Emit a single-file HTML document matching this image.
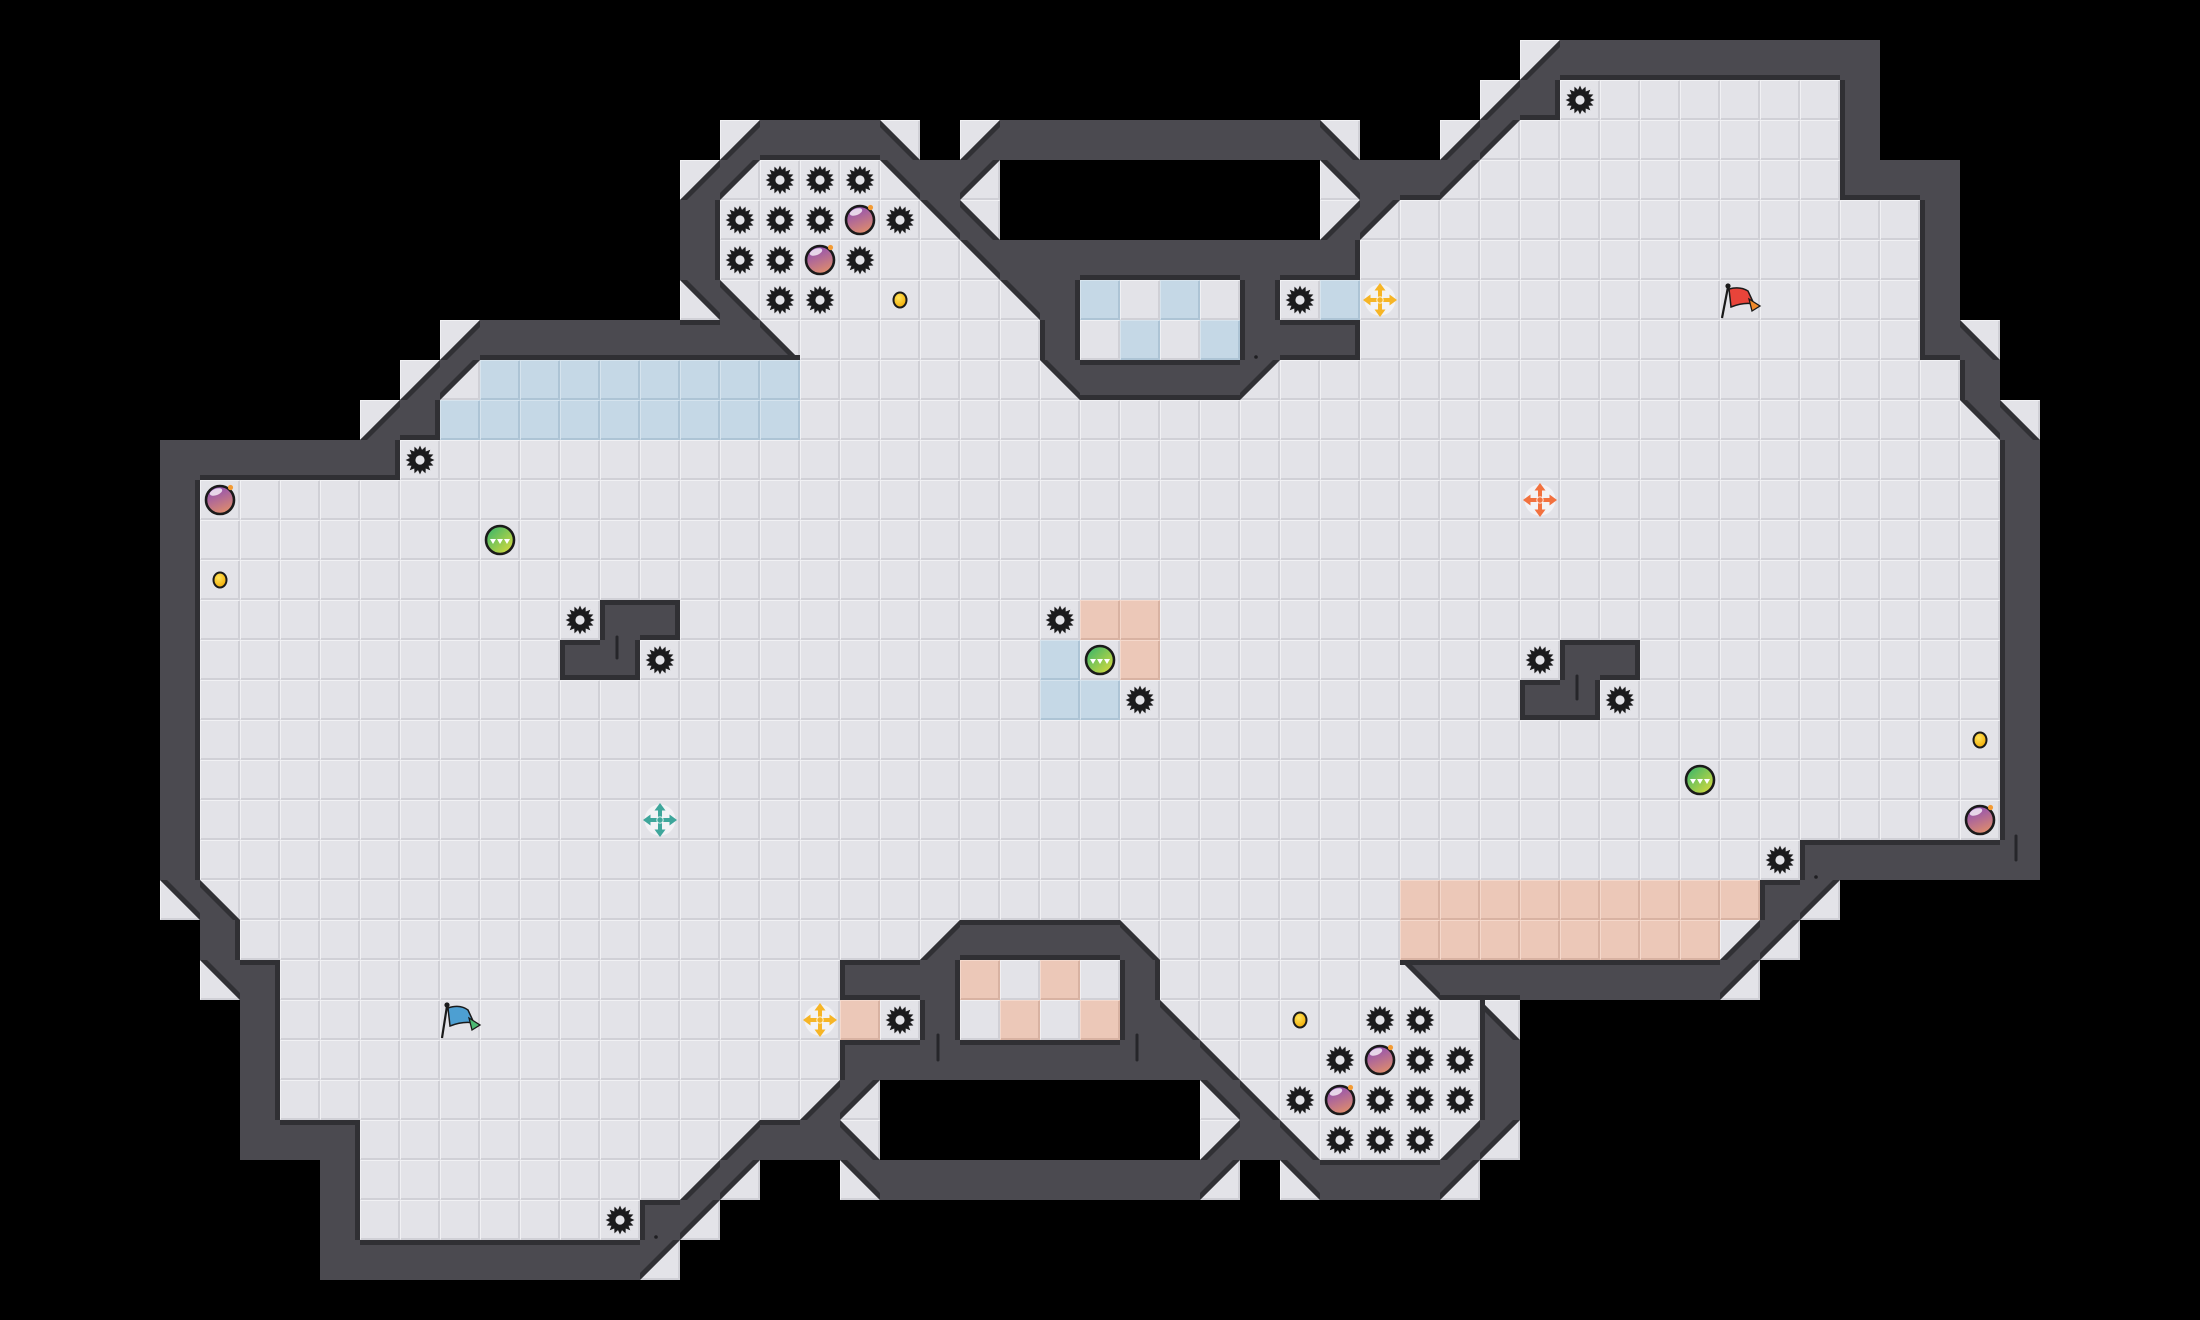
<!DOCTYPE html>
<html><head><meta charset="utf-8"><title>Level map</title>
<style>
html,body{margin:0;padding:0;background:#000;width:2200px;height:1320px;overflow:hidden}
#root,svg{display:block}
</style>
</head><body>
<div id="root"></div>
<script>
(function(){
var S=40,W=5,K=7;
var G=[];for(var r=0;r<33;r++){var row=[];for(var c=0;c<55;c++)row.push(' ');G.push(row);}
function s(r,c,t){for(var i=0;i<t.length;i++)G[r][c+i]=t[i];}
function f(r,a,b,ch){for(var c=a;c<=b;c++)G[r][c]=ch;}
/* ---- tile map ---- */
s(1,38,'4');f(1,39,46,'#');
s(2,37,'4#');f(2,39,45,'.');s(2,46,'#');
s(3,18,'4###3');s(3,24,'4');f(3,25,32,'#');s(3,33,'3');s(3,36,'41');f(3,38,45,'.');s(3,46,'#');
s(4,17,'41...2#1');s(4,33,'2##1');f(4,37,45,'.');s(4,46,'###');
s(5,17,'#.....23');s(5,33,'41');f(5,35,47,'.');s(5,48,'#');
s(6,17,'#......2');f(6,25,33,'#');f(6,34,47,'.');s(6,48,'#');
s(7,17,'23......2#b.b.#.b');f(7,34,47,'.');s(7,48,'#');
s(8,11,'4');f(8,12,18,'#');s(8,19,'3');f(8,20,25,'.');s(8,26,'#.b.b###');f(8,34,47,'.');s(8,48,'#3');
s(9,10,'41');f(9,12,19,'b');f(9,20,25,'.');s(9,26,'2####1');f(9,32,48,'.');s(9,49,'#');
s(10,9,'4#');f(10,11,19,'b');f(10,20,48,'.');s(10,49,'23');
f(11,4,9,'#');f(11,10,49,'.');s(11,50,'#');
for(var rr=12;rr<=20;rr++){s(rr,4,'#');f(rr,5,49,'.');s(rr,50,'#');}
s(15,15,'##');s(15,27,'oo');
s(16,14,'##');s(16,26,'b');s(16,28,'o');s(16,39,'##');
s(17,26,'bb');s(17,38,'##');
s(21,4,'#');f(21,5,44,'.');f(21,45,50,'#');
s(22,4,'23');f(22,6,34,'.');f(22,35,43,'o');s(22,44,'#1');
s(23,5,'#');f(23,6,22,'.');s(23,23,'4####3');f(23,29,34,'.');f(23,35,42,'o');s(23,43,'41');
s(24,5,'2#');f(24,7,20,'.');s(24,21,'###o.o.#');f(24,29,34,'.');s(24,35,'2');f(24,36,42,'#');s(24,43,'1');
s(25,6,'#');f(25,7,20,'.');s(25,21,'o.#.o.o#3');f(25,30,36,'.');s(25,37,'3');
s(26,6,'#');f(26,7,20,'.');f(26,21,29,'#');s(26,30,'3');f(26,31,36,'.');s(26,37,'#');
s(27,6,'#');f(27,7,19,'.');s(27,20,'41');s(27,30,'23');f(27,32,36,'.');s(27,37,'#');
f(28,6,8,'#');f(28,9,17,'.');s(28,18,'4##3');s(28,30,'4#3');f(28,33,35,'.');s(28,36,'41');
s(29,8,'#');f(29,9,16,'.');s(29,17,'41');s(29,21,'2');f(29,22,29,'#');s(29,30,'1');s(29,32,'2###1');
s(30,8,'#');f(30,9,15,'.');s(30,16,'#1');
f(31,8,15,'#');s(31,16,'1');

var WALL='#4b4a50',EDGE='#303034';
var FL={'.':['#e3e3e8','#f1f1f4','#d0d0d6'],'b':['#c5d8e6','#d6e4ee','#adc4d5'],'o':['#ecc8b8','#f5d9cc','#d8b2a2']};
function tile(x,y,t){var c=FL[t];
 return '<rect x="'+x+'" y="'+y+'" width="40" height="40" fill="'+c[0]+'"/>'+
 '<path d="M'+(x+0.5)+' '+(y+39)+'V'+(y+0.5)+'H'+(x+39)+'" stroke="'+c[1]+'" stroke-width="1" fill="none"/>'+
 '<path d="M'+(x+1)+' '+(y+39)+'H'+(x+39)+'V'+(y+1)+'" stroke="'+c[2]+'" stroke-width="2" fill="none"/>';}
function poly(p,col){var a=[];for(var i=0;i<p.length;i++)a.push(p[i][0]+','+p[i][1]);return '<polygon points="'+a.join(' ')+'" fill="'+col+'"/>';}
function rect(x,y,w,h,col){return '<rect x="'+x+'" y="'+y+'" width="'+w+'" height="'+h+'" fill="'+col+'"/>';}
function ed(t,side){
 if(t==='#')return 1;
 if(t==='.'||t==='b'||t==='o')return 0;
 if(t==='1')return (side===0||side===3)?1:0;
 if(t==='2')return (side===0||side===1)?1:0;
 if(t==='3')return (side===2||side===3)?1:0;
 if(t==='4')return (side===2||side===1)?1:0;
 return -1;}
var h='',e='';
for(var r=0;r<33;r++)for(var c=0;c<55;c++){
 var t=G[r][c],x=c*S,y=r*S;
 if(t===' ')continue;
 if(t==='#'){h+=rect(x,y,S,S,WALL);continue;}
 if(FL[t]){h+=tile(x,y,t);continue;}
 h+=tile(x,y,'.');
 if(t==='1'){h+=poly([[x,y],[x+S,y],[x,y+S]],WALL);e+=poly([[x+S,y],[x,y+S],[x,y+S-K],[x+S-K,y]],EDGE);}
 if(t==='2'){h+=poly([[x,y],[x+S,y],[x+S,y+S]],WALL);e+=poly([[x,y],[x+S,y+S],[x+S,y+S-K],[x+K,y]],EDGE);}
 if(t==='3'){h+=poly([[x,y],[x,y+S],[x+S,y+S]],WALL);e+=poly([[x,y],[x+S,y+S],[x+S-K,y+S],[x,y+K]],EDGE);}
 if(t==='4'){h+=poly([[x+S,y],[x+S,y+S],[x,y+S]],WALL);e+=poly([[x+S,y],[x,y+S],[x+K,y+S],[x+S,y+K]],EDGE);}
}
for(var r=0;r<33;r++)for(var c=0;c<55;c++){
 var t=G[r][c],x=c*S,y=r*S,a,b;
 if(c<54){a=ed(t,1);b=ed(G[r][c+1],3);
  if(a===1&&b===0)e+=rect(x+S-W,y,W,S,EDGE);else if(a===0&&b===1)e+=rect(x+S,y,W,S,EDGE);}
 if(r<32){a=ed(t,2);b=ed(G[r+1][c],0);
  if(a===1&&b===0)e+=rect(x,y+S-W,S,W,EDGE);else if(a===0&&b===1)e+=rect(x,y+S,S,W,EDGE);}
}
/* marks */
var m='';
var ticks=[[617,637,658],[1577,676,699],[2016,836,860],[938,1035,1060],[1137,1035,1060]];
for(var i=0;i<ticks.length;i++)m+='<line x1="'+ticks[i][0]+'" y1="'+ticks[i][1]+'" x2="'+ticks[i][0]+'" y2="'+ticks[i][2]+'" stroke="#26262a" stroke-width="3" stroke-linecap="round"/>';
var dots=[[1256,357],[1816,877],[656,1237]];
for(var i=0;i<dots.length;i++)m+='<circle cx="'+dots[i][0]+'" cy="'+dots[i][1]+'" r="1.8" fill="#1f1f22"/>';
/* objects */
var o='';
var sp='';for(var i=0;i<32;i++){var an=i*Math.PI/16;var rad=(i%2)?10.3:14.5;sp+=(i?'L':'M')+(rad*Math.cos(an)).toFixed(2)+' '+(rad*Math.sin(an)).toFixed(2);}sp+='Z';
function cx(c){return c*S+20;}
var saws=[[39,2],[19,4],[20,4],[21,4],[18,5],[19,5],[20,5],[22,5],[18,6],[19,6],[21,6],[19,7],[20,7],[32,7],[10,11],[14,15],[16,16],[26,15],[28,17],[38,16],[40,17],[44,21],[22,25],[34,25],[35,25],[33,26],[35,26],[36,26],[32,27],[34,27],[35,27],[36,27],[33,28],[34,28],[35,28],[15,30]];
for(var i=0;i<saws.length;i++){o+='<g transform="translate('+cx(saws[i][0])+','+cx(saws[i][1])+')"><path d="'+sp+'" fill="#1b1b1d"/><circle r="4.6" fill="#e3e3e8"/></g>';}
var bombs=[[21,5],[20,6],[5,12],[49,20],[34,26],[33,27]];
for(var i=0;i<bombs.length;i++){o+='<g transform="translate('+cx(bombs[i][0])+','+cx(bombs[i][1])+')"><circle r="14" fill="url(#gb)" stroke="#1a1a1a" stroke-width="2.6"/><ellipse cx="-4" cy="-8" rx="6.5" ry="3.2" fill="#fff" opacity=".75" transform="rotate(-20 -4 -8)"/><circle cx="10.5" cy="-12.5" r="2.6" fill="#f39b35"/></g>';}
var greens=[[12,13],[27,16],[42,19]];
for(var i=0;i<greens.length;i++){o+='<g transform="translate('+cx(greens[i][0])+','+cx(greens[i][1])+')"><circle r="14" fill="url(#gg)" stroke="#1a1a1a" stroke-width="2.6"/><path d="M-10 -1H-4L-7 4Z M-3 -1H3L0 4Z M4 -1H10L7 4Z" fill="#fff"/></g>';}
var coins=[[22,7],[5,14],[49,18],[32,25]];
for(var i=0;i<coins.length;i++){o+='<g transform="translate('+cx(coins[i][0])+','+cx(coins[i][1])+')"><ellipse rx="6.5" ry="7.5" fill="url(#gc)" stroke="#1a1a1a" stroke-width="2"/></g>';}
var cross=[[34,7,'#f6b526'],[20,25,'#f6b526'],[38,12,'#f2713e'],[16,20,'#3ea69b']];
for(var i=0;i<cross.length;i++){var col=cross[i][2];
 o+='<g transform="translate('+cx(cross[i][0])+','+cx(cross[i][1])+')"><circle r="15.5" fill="#ffffff" opacity=".55"/><path d="M-11 0H11M0 -11V11" stroke="'+col+'" stroke-width="4"/><path d="M0 -17L-5.5 -9.5H5.5Z M0 17L-5.5 9.5H5.5Z M-17 0L-9.5 -5.5V5.5Z M17 0L9.5 -5.5V5.5Z" fill="'+col+'"/><circle r="3.2" fill="none" stroke="#fff" stroke-width="1.2" opacity=".7"/></g>';}
/* flags */
o+='<line x1="1722" y1="318" x2="1728" y2="287" stroke="#1a1a1a" stroke-width="2.2"/><circle cx="1728" cy="286" r="2.6" fill="#1a1a1a"/>'+
 '<path d="M1729 289 Q1740 286 1748 291 L1754 304 Q1744 302 1731 307 Z" fill="#e8443a" stroke="#1a1a1a" stroke-width="1.5"/>'+
 '<path d="M1749 299 L1760 306 L1752 311 Z" fill="#f08a2a" stroke="#1a1a1a" stroke-width="1.3"/>';
o+='<line x1="442" y1="1038" x2="447" y2="1006" stroke="#1a1a1a" stroke-width="2.2"/><circle cx="447" cy="1005" r="2.6" fill="#1a1a1a"/>'+
 '<path d="M448 1008 Q460 1004 468 1010 L474 1023 Q463 1021 450 1026 Z" fill="#4d9fd2" stroke="#1a1a1a" stroke-width="1.5"/>'+
 '<path d="M469 1018 L480 1025 L472 1030 Z" fill="#4cb872" stroke="#1a1a1a" stroke-width="1.3"/>';
var defs='<defs>'+
 '<linearGradient id="gb" x1="0.3" y1="0" x2="0.7" y2="1"><stop offset="0" stop-color="#8c4db8"/><stop offset="1" stop-color="#e28f69"/></linearGradient>'+
 '<linearGradient id="gg" x1="0" y1="0" x2="1" y2="1"><stop offset="0" stop-color="#2fb36e"/><stop offset="1" stop-color="#e3dd38"/></linearGradient>'+
 '<radialGradient id="gc" cx="0.4" cy="0.35" r="0.7"><stop offset="0" stop-color="#ffe45a"/><stop offset="1" stop-color="#f0a800"/></radialGradient>'+
 '</defs>';
document.getElementById('root').innerHTML='<svg xmlns="http://www.w3.org/2000/svg" width="2200" height="1320" viewBox="0 0 2200 1320">'+defs+
 '<rect width="2200" height="1320" fill="#000"/>'+h+e+m+o+'</svg>';
})();
</script>
</body></html>
